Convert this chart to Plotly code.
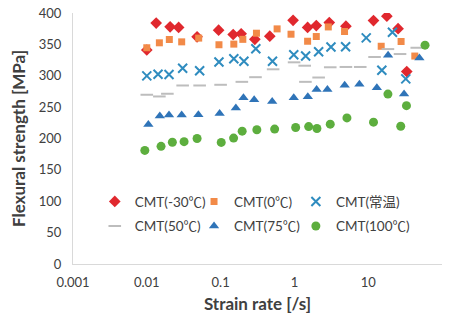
import plotly.graph_objects as go

# -30C
x_m30 = [0.01, 0.0134, 0.0207, 0.027, 0.048, 0.094, 0.148, 0.19, 0.291, 0.464, 0.96, 1.51, 1.98, 2.97, 4.99, 11.8, 17.9, 25.4, 33.3]
y_m30 = [341, 384, 378, 377, 362, 372.6, 365.7, 366.8, 358, 363, 388.4, 377, 380, 384.7, 379, 388, 395, 375, 306.6]
# 0C
x_0 = [0.01, 0.0148, 0.0202, 0.0297, 0.0505, 0.095, 0.151, 0.2, 0.306, 0.583, 0.9, 1.51, 1.98, 2.88, 4.78, 15, 27.9, 42.8]
y_0 = [344.6, 352.5, 357.8, 354, 360, 349.4, 350.4, 358, 367.8, 374.7, 366.2, 355, 362.5, 377.8, 370.5, 347, 354.6, 331.4]
# room temp
x_rt = [0.01, 0.0142, 0.02, 0.0306, 0.052, 0.095, 0.151, 0.207, 0.3, 0.505, 0.98, 1.42, 2.13, 3.13, 4.94, 9.4, 15.3, 21.3, 32.3]
y_rt = [299.8, 302.4, 302, 312, 308, 322, 327.2, 323, 343, 323, 333.5, 331.4, 338.3, 345.7, 346.2, 360.4, 308.8, 369.4, 295]
# 50C
x_50 = [0.01, 0.0148, 0.019, 0.0306, 0.052, 0.1, 0.194, 0.297, 0.515, 0.99, 1.38, 1.41, 2.13, 3.06, 4.99, 7.8, 12.2, 18.5, 27, 45.5]
y_50 = [269.7, 267, 271.3, 284.5, 284.5, 285.6, 290.3, 297.7, 310.3, 321.4, 316, 290.3, 297.2, 313.5, 314, 314, 329.9, 342.5, 334.6, 344.6]
# 75C
x_75 = [0.0105, 0.015, 0.02, 0.0297, 0.05, 0.097, 0.161, 0.204, 0.285, 0.5, 0.98, 1.52, 2.0, 2.8, 4.8, 7.6, 13.1, 18.6, 30.6, 49.4]
y_75 = [222.3, 236, 237.6, 237.6, 238, 240, 248.6, 265, 261.8, 259, 265, 266.6, 278, 278, 285, 286.6, 280.8, 332.5, 270.8, 328.3]
# 100C
x_100 = [0.0094, 0.0156, 0.0222, 0.032, 0.048, 0.102, 0.15, 0.196, 0.31, 0.54, 1.04, 1.56, 2.02, 3.06, 5.15, 11.8, 18.5, 27.6, 33, 58.9]
y_100 = [181, 187.5, 194, 195, 200, 193.8, 200.6, 211.7, 214, 215, 217.5, 219, 216, 222.8, 232.8, 226, 270.8, 219.6, 252.3, 348.8]

x_ticks = [0.001, 0.01, 0.1, 1, 10, 100]
x_ticklabels = ["0.001", "0.01", "0.1", "1", "10", "100"]
y_ticks = [0, 50, 100, 150, 200, 250, 300, 350, 400]

# (name, x, y, symbol, colour, size, legend column)
series = [
    ("CMT(-30℃)", x_m30, y_m30, "diamond", "#E0282E", 9, "legend"),
    ("CMT(0℃)", x_0, y_0, "square", "#F28A48", 7, "legend2"),
    ("CMT(常温)", x_rt, y_rt, "x-thin", "#2F8CBF", 9, "legend3"),
    ("CMT(50℃)", x_50, y_50, "line-ew", "#BDBDBD", 9, "legend"),
    ("CMT(75℃)", x_75, y_75, "triangle-up", "#2F74B8", 9, "legend2"),
    ("CMT(100℃)", x_100, y_100, "circle", "#5DAE3E", 9, "legend3"),
]

FONT = "Lato, Noto Sans CJK JP, sans-serif"
TXT = "#404040"

fig = go.Figure()
for name, xs, ys, sym, col, sz, lg in series:
    mk = dict(symbol=sym, color=col, size=sz)
    if sym in ("x-thin", "line-ew"):
        mk["line"] = dict(color=col, width=2)
    fig.add_trace(go.Scatter(x=xs, y=ys, mode="markers", name=name, marker=mk,
                             legend=lg, legendgroup=name))

def leg(x):
    return dict(orientation="v", x=x, y=0.31, xanchor="left", yanchor="top",
                bgcolor="rgba(0,0,0,0)", font=dict(size=13.5, color=TXT),
                itemsizing="trace", tracegroupgap=4)

fig.update_layout(
    width=452, height=318,
    margin=dict(l=73, r=10, t=13, b=54, autoexpand=False),
    paper_bgcolor="white", plot_bgcolor="white",
    font=dict(family=FONT, size=13, color=TXT),
    showlegend=True,
    legend=leg(0.059), legend2=leg(0.328), legend3=leg(0.604),
)
fig.update_xaxes(type="log", range=[-3, 2], showgrid=False, zeroline=False, automargin=False,
                 showline=True, linecolor="#D9D9D9", linewidth=1,
                 tickvals=x_ticks, ticktext=x_ticklabels,
                 ticks="outside", ticklen=6, tickcolor="rgba(0,0,0,0)",
                 title=dict(text="<b>Strain rate [/s]</b>", font=dict(size=17, color=TXT), standoff=9))
fig.update_yaxes(range=[0, 400], showgrid=False, zeroline=False, automargin=False,
                 showline=True, linecolor="#D9D9D9", linewidth=1,
                 tickvals=y_ticks,
                 ticks="outside", ticklen=8, tickcolor="rgba(0,0,0,0)",
                 title=dict(text="<b>Flexural strength [MPa]</b>", font=dict(size=17, color=TXT), standoff=8))
fig.write_html("out.html", config={"displayModeBar": False},
               post_script="document.body.style.margin='0';")
